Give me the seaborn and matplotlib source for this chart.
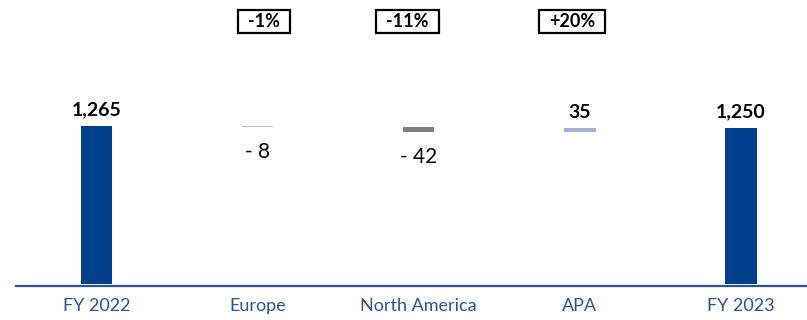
import matplotlib
matplotlib.use("Agg")
import matplotlib.pyplot as plt
import matplotlib.patches as mpatches
import seaborn as sns
import numpy as np
import pandas as pd

categories = ["FY 2022", "Europe", "North America", "APA", "FY 2023"]
start_total = 1265
changes = [-8, -42, 35]
end_total = 1250
pct_labels = ["-1%", "-11%", "+20%"]
value_labels = ["1,265", "- 8", "- 42", "35", "1,250"]

bar_colors = ["#003F8C", "#BFBFBF", "#7F7F7F", "#A8B3D7", "#003F8C"]
axis_blue = "#2A549A"

sns.set_theme(style="white")
plt.rcParams["font.family"] = ["Lato", "DejaVu Sans"]

# waterfall geometry from data
heights = [start_total] + [abs(c) for c in changes] + [end_total]
bottoms = [0]
running = start_total
for c in changes:
    new = running + c
    bottoms.append(min(running, new))
    running = new
bottoms.append(0)
tops = [b + h for b, h in zip(bottoms, heights)]

df = pd.DataFrame({"category": categories, "height": heights})

fig = plt.figure(figsize=(8.07, 3.20), dpi=100)
ax = fig.add_axes([16 / 807, 34 / 320, 791 / 807, 286 / 320])

sns.barplot(data=df, x="category", y="height", order=categories, ax=ax,
            width=0.195, bottom=np.array(bottoms, dtype=float), linewidth=0,
            color=bar_colors[0])
for patch, col in zip(ax.patches, bar_colors):
    patch.set_facecolor(col)
    patch.set_edgecolor("none")

ax.set_xlim(-0.5, 4.41)
ax.set_ylim(-15, 2275)

for s in ["top", "right", "left"]:
    ax.spines[s].set_visible(False)
ax.spines["bottom"].set_color(axis_blue)
ax.spines["bottom"].set_linewidth(1.6)
ax.spines["bottom"].set_zorder(0.5)
ax.set_yticks([])
ax.set_xlabel("")
ax.set_ylabel("")
ax.tick_params(axis="x", length=0, pad=8.5, labelsize=13, labelcolor=axis_blue)

# value labels
for i, lab in enumerate(value_labels):
    is_neg = 1 <= i <= 3 and changes[i - 1] < 0
    if is_neg:
        ax.annotate(lab, (i, bottoms[i]), xytext=(0, -10.5), textcoords="offset points",
                    ha="center", va="top", fontsize=15, color="black")
    else:
        ax.annotate(lab, (i, tops[i]), xytext=(0, 7.5), textcoords="offset points",
                    ha="center", va="baseline", fontsize=14, fontweight="bold",
                    color="black")

# percentage boxes
box_offsets = [0.04, -0.07, -0.05]
texts = []
for j, (lab, off) in enumerate(zip(pct_labels, box_offsets)):
    t = ax.text(j + 1 + off, 2104, lab, ha="center", va="center", fontsize=13,
                fontweight="bold", color="black", zorder=5)
    texts.append(t)

fig.canvas.draw()
renderer = fig.canvas.get_renderer()
for t in texts:
    bb = t.get_window_extent(renderer)
    cx, cy = ax.transData.transform(t.get_position())
    w = bb.width + 20
    h = 23
    rect = mpatches.Rectangle((cx - w / 2, cy - h / 2), w, h, transform=None,
                              facecolor="none", edgecolor="black", linewidth=1.6,
                              zorder=4)
    fig.patches.append(rect)

fig.savefig("out.png", dpi=100)
